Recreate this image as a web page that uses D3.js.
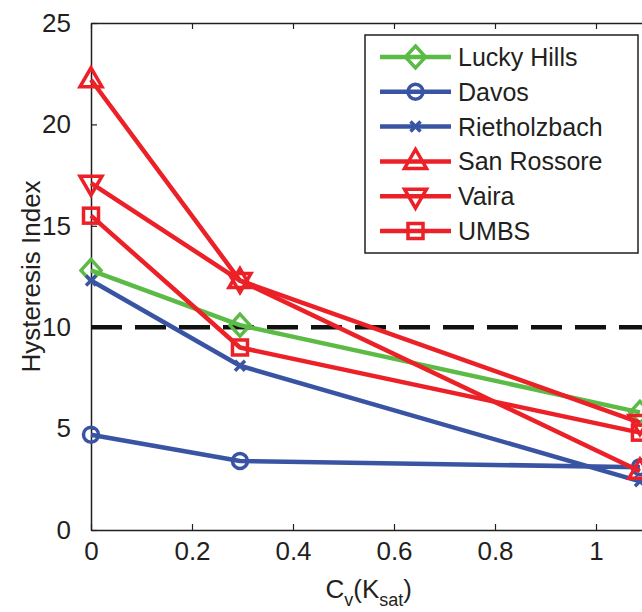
<!DOCTYPE html>
<html>
<head>
<meta charset="utf-8">
<script src="https://cdn.jsdelivr.net/npm/d3@7"></script>
<style>
  body { margin: 0; background: #fff; }
  svg { display: block; font-family: "Liberation Sans", Arial, sans-serif; }
</style>
</head>
<body>
<svg id="chart"></svg>
<script>
// data
const xValues = [0, 0.295, 1.087];
const seriesNames = ["Lucky Hills", "Davos", "Rietholzbach", "San Rossore", "Vaira", "UMBS"];
const luckyHills   = [12.8, 10.1, 5.8];
const davos        = [4.7, 3.4, 3.1];
const rietholzbach = [12.3, 8.1, 2.4];
const sanRossore   = [22.2, 12.3, 2.9];
const vaira        = [17.1, 12.3, 5.3];
const umbs         = [15.5, 9.0, 4.8];
const xTicks = [0, 0.2, 0.4, 0.6, 0.8, 1];
const yTicks = [0, 5, 10, 15, 20, 25];
const threshold = 10;

const green = "#5bbb46", blue = "#3a54a4", red = "#ec2027";
const series = [
  { name: seriesNames[0], values: luckyHills,   color: green, marker: "diamond" },
  { name: seriesNames[1], values: davos,        color: blue,  marker: "circle" },
  { name: seriesNames[2], values: rietholzbach, color: blue,  marker: "x" },
  { name: seriesNames[3], values: sanRossore,   color: red,   marker: "up" },
  { name: seriesNames[4], values: vaira,        color: red,   marker: "down" },
  { name: seriesNames[5], values: umbs,         color: red,   marker: "square" }
];

const width = 642, height = 612;
const margin = { left: 91, top: 23, bottom: 82 };

const svg = d3.select("#chart").attr("width", width).attr("height", height);

const x = d3.scaleLinear().domain([0, 1.2]).range([margin.left, margin.left + 606]);
const y = d3.scaleLinear().domain([0, 25]).range([height - margin.bottom, margin.top]);

// frame + inward ticks (matlab style)
const axisColor = "#231f20";
const tickFont = 26;
svg.append("g")
  .attr("transform", `translate(0,${y(0)})`)
  .call(d3.axisBottom(x).tickValues(xTicks).tickSizeInner(-6).tickSizeOuter(0).tickPadding(12)
    .tickFormat(d => d === 0 ? "0" : d3.format("")(d)))
  .call(g => g.select(".domain").attr("stroke", axisColor).attr("stroke-width", 1.5))
  .call(g => g.selectAll(".tick line").attr("stroke", axisColor).attr("stroke-width", 1.2))
  .call(g => g.selectAll("text").attr("font-size", tickFont).attr("fill", "#231f20").attr("font-family", "Liberation Sans, Arial"));

svg.append("g")
  .attr("transform", `translate(0,${y(25)})`)
  .call(d3.axisTop(x).tickValues(xTicks).tickSizeInner(-6).tickSizeOuter(0).tickFormat(""))
  .call(g => g.select(".domain").attr("stroke", axisColor).attr("stroke-width", 1.5))
  .call(g => g.selectAll(".tick line").attr("stroke", axisColor).attr("stroke-width", 1.2));

svg.append("g")
  .attr("transform", `translate(${x(0)},0)`)
  .call(d3.axisLeft(y).tickValues(yTicks).tickSizeInner(-6).tickSizeOuter(0).tickPadding(20))
  .call(g => g.select(".domain").attr("stroke", axisColor).attr("stroke-width", 1.5))
  .call(g => g.selectAll(".tick line").attr("stroke", axisColor).attr("stroke-width", 1.2))
  .call(g => g.selectAll("text").attr("font-size", tickFont).attr("fill", "#231f20").attr("font-family", "Liberation Sans, Arial"));

// dashed threshold
svg.append("line")
  .attr("x1", x(0)).attr("x2", width)
  .attr("y1", y(threshold)).attr("y2", y(threshold))
  .attr("stroke", "#111").attr("stroke-width", 4.5)
  .attr("stroke-dasharray", "31,13");

function drawMarker(g, type, color) {
  const sw = 3.5;
  if (type === "circle") {
    g.append("circle").attr("r", 7.5).attr("fill", "none").attr("stroke", color).attr("stroke-width", sw);
  } else if (type === "diamond") {
    g.append("path").attr("d", "M0,-11L10,0L0,11L-10,0Z").attr("fill", "none").attr("stroke", color).attr("stroke-width", sw);
  } else if (type === "square") {
    g.append("rect").attr("x", -7.5).attr("y", -7.5).attr("width", 15).attr("height", 15)
      .attr("fill", "none").attr("stroke", color).attr("stroke-width", sw);
  } else if (type === "up") {
    g.append("path").attr("d", "M0,-12L11,7L-11,7Z").attr("fill", "none").attr("stroke", color).attr("stroke-width", sw);
  } else if (type === "down") {
    g.append("path").attr("d", "M0,12L11,-7L-11,-7Z").attr("fill", "none").attr("stroke", color).attr("stroke-width", sw);
  } else if (type === "x") {
    g.append("path").attr("d", "M-5,-5L5,5M-5,5L5,-5").attr("fill", "none").attr("stroke", color).attr("stroke-width", sw);
  }
}

const line = d3.line().x((d, i) => x(xValues[i])).y(d => y(d));

series.forEach(s => {
  svg.append("path")
    .datum(s.values)
    .attr("d", line)
    .attr("fill", "none")
    .attr("stroke", s.color)
    .attr("stroke-width", 4.5)
    .attr("stroke-linejoin", "round");
  s.values.forEach((v, i) => {
    const g = svg.append("g").attr("transform", `translate(${x(xValues[i])},${y(v)})`);
    drawMarker(g, s.marker, s.color);
  });
});

// legend
const legend = svg.append("g").attr("transform", "translate(365,35)");
legend.append("rect").attr("width", 273).attr("height", 218)
  .attr("fill", "#fff").attr("stroke", axisColor).attr("stroke-width", 1.5);
series.forEach((s, i) => {
  const ly = 22 + i * 34.8;
  const row = legend.append("g").attr("transform", `translate(0,${ly})`);
  row.append("line").attr("x1", 15).attr("x2", 86).attr("y1", 0).attr("y2", 0)
    .attr("stroke", s.color).attr("stroke-width", 4.5);
  const m = row.append("g").attr("transform", "translate(50.5,0)");
  drawMarker(m, s.marker, s.color);
  row.append("text").attr("x", 93).attr("y", 0).attr("dy", "0.36em")
    .attr("font-size", 25).attr("fill", "#231f20").text(s.name);
});

// axis titles
svg.append("text")
  .attr("transform", `translate(40,${y(12.5)}) rotate(-90)`)
  .attr("text-anchor", "middle")
  .attr("font-size", 26).attr("fill", "#231f20")
  .text("Hysteresis Index");

const xt = svg.append("text")
  .attr("x", x(0.55)).attr("y", 598)
  .attr("text-anchor", "middle")
  .attr("font-size", 26).attr("fill", "#231f20");
xt.append("tspan").text("C");
xt.append("tspan").attr("font-size", 18).attr("dy", 8).text("v");
xt.append("tspan").attr("dy", -8).text("(K");
xt.append("tspan").attr("font-size", 18).attr("dy", 8).text("sat");
xt.append("tspan").attr("dy", -8).text(")");
</script>
</body>
</html>
